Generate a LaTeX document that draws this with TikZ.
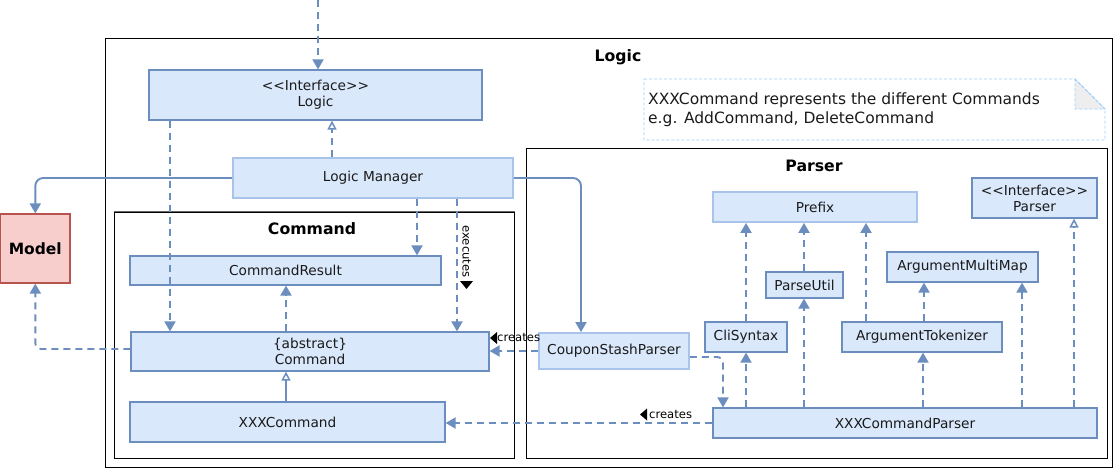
\documentclass[tikz,border=0pt]{standalone}
\usepackage{fontspec}
\setmainfont{DejaVu Sans}
\usetikzlibrary{arrows.meta}

\definecolor{boxfill}{HTML}{DAE8FC}
\definecolor{boxline}{HTML}{6C8EBF}
\definecolor{boxlight}{HTML}{A9C4EB}
\definecolor{modelfill}{HTML}{F8CECC}
\definecolor{modelline}{HTML}{B85450}
\definecolor{notebd}{HTML}{99CCFF}
\definecolor{foldfill}{HTML}{EEEEEE}
\definecolor{txt}{HTML}{1A1A1A}

\tikzset{
  cls/.style={draw=boxline, fill=boxfill, line width=1.2pt, inner sep=0pt,
    align=center, text=txt, font=\fontsize{13.7}{16}\selectfont},
  clslight/.style={cls, draw=boxlight, line width=1.8pt},
  pkg/.style={draw=black, line width=1pt, inner sep=0pt},
  pkgtitle/.style={font=\fontsize{15.7}{18}\selectfont\bfseries, inner sep=0pt},
  lbl/.style={font=\fontsize{11.6}{13}\selectfont, inner sep=0pt},
  dep/.style={draw=boxline, line width=1.9pt, dash pattern=on 7pt off 5pt,
    -{Triangle[width=11pt,length=10pt]}},
  realize/.style={draw=boxline, line width=1.9pt, dash pattern=on 7pt off 5pt,
    -{Triangle[open,fill=white,width=9pt,length=9pt,line width=1.5pt]}},
  assoc/.style={draw=boxline, line width=1.9pt, rounded corners=8pt,
    -{Triangle[width=11pt,length=10pt]}},
  inherit/.style={draw=boxline, line width=1.9pt,
    -{Triangle[open,fill=white,width=9pt,length=9pt,line width=1.5pt]}},
}

\begin{document}
\begin{tikzpicture}[x=1pt,y=-1pt]
\useasboundingbox (0,0) rectangle (1115,469);

% packages
\node[pkg, minimum width=1007pt, minimum height=429pt] (logicpkg) at (608.5,252.5) {};
\node[pkgtitle] (logictitle) at (618,57) {Logic};
\node[pkg, minimum width=400pt, minimum height=246pt] (cmdpkg) at (314,335) {};
\draw[black!60, line width=1.4pt] (cmdpkg.north west) -- (cmdpkg.north east);
\node[pkgtitle] (cmdtitle) at (312,229) {Command};
\node[pkg, minimum width=581pt, minimum height=310pt] (parserpkg) at (816.5,303) {};
\node[pkgtitle] (parsertitle) at (814,166) {Parser};

% note with folded corner
\filldraw[draw=notebd, fill=foldfill, line width=0.8pt, dash pattern=on 3pt off 2pt]
  (1075,79) -- (1105,109) -- (1075,109) -- cycle;
\draw[notebd, line width=0.8pt, dash pattern=on 3pt off 2pt]
  (644,79) -- (1075,79) -- (1105,109) -- (1105,140) -- (644,140) -- cycle;
\node[anchor=west, align=left, inner sep=0pt, text=txt, font=\fontsize{15.5}{19}\selectfont]
  (notetext) at (648,110) {XXXCommand represents the different Commands\\e.g. AddCommand, DeleteCommand};

% classes
\node[cls, minimum width=333pt, minimum height=50pt] (ilogic) at (315.5,95) {<{}<Interface>{}>\\Logic};
\node[clslight, minimum width=280pt, minimum height=40pt] (lm) at (373,178) {Logic Manager};
\node[draw=modelline, fill=modelfill, line width=1.2pt, inner sep=0pt,
  minimum width=69.4pt, minimum height=69pt, font=\fontsize{15.5}{18}\selectfont\bfseries]
  (model) at (35.3,248.5) {Model};
\node[cls, minimum width=311pt, minimum height=29pt] (cmdresult) at (285.5,270.5) {CommandResult};
\node[cls, minimum width=358pt, minimum height=39pt] (cmd) at (310,351.5) {\{abstract\}\\Command};
\node[cls, minimum width=315pt, minimum height=40pt] (xxxcmd) at (287.5,422) {XXXCommand};
\node[clslight, minimum width=150pt, minimum height=36pt] (csp) at (614,351) {CouponStashParser};
\node[clslight, minimum width=204pt, minimum height=30pt] (prefix) at (815,207) {Prefix};
\node[cls, minimum width=125pt, minimum height=40pt] (iparser) at (1034.5,198) {<{}<Interface>{}>\\Parser};
\node[cls, minimum width=151pt, minimum height=30pt] (amm) at (962.5,267) {ArgumentMultiMap};
\node[cls, minimum width=77pt, minimum height=26pt] (parseutil) at (804.5,285) {ParseUtil};
\node[cls, minimum width=82pt, minimum height=30pt] (clisyntax) at (746,337) {CliSyntax};
\node[cls, minimum width=160pt, minimum height=30pt] (atok) at (922,337) {ArgumentTokenizer};
\node[cls, minimum width=384pt, minimum height=30pt] (xcp) at (905,423) {XXXCommandParser};

% connectors
\coordinate (entry) at (318,0);
\draw[dep] (entry) -- (entry |- ilogic.north);
\draw[realize] (lm.north -| 332,0) -- (ilogic.south -| 332,0);
\draw[assoc] (lm.west) -| (model.north);
\draw[assoc] (lm.east) -| (581,0 |- csp.north);
\draw[dep] (lm.south -| 417,0) -- (cmdresult.north -| 417,0);
\draw[dep] (lm.south -| 457,0) -- (cmd.north -| 457,0);
\draw[dep] (ilogic.south -| 170,0) -- (cmd.north -| 170,0);
\draw[dep] (cmd.north -| 286,0) -- (cmdresult.south -| 286,0);
\draw[dep, rounded corners=6pt] (cmd.west |- 0,349) -| (model.south);
\draw[inherit] (xxxcmd.north -| 286,0) -- (cmd.south -| 286,0);
\draw[dep] (xcp.west) -- (xcp.west -| xxxcmd.east);
\draw[dep] (csp.west) -- (csp.west -| cmd.east);
\draw[dep, rounded corners=6pt] (csp.east |- 0,357) -| (xcp.north -| 723,0);
\draw[dep] (clisyntax.north) -- (clisyntax.north |- prefix.south);
\draw[dep] (xcp.north -| clisyntax) -- (clisyntax.south);
\draw[dep] (parseutil.north -| 804,0) -- (prefix.south -| 804,0);
\draw[dep] (xcp.north -| 804,0) -- (parseutil.south -| 804,0);
\draw[dep] (atok.north -| 866,0) -- (prefix.south -| 866,0);
\draw[dep] (atok.north -| 924,0) -- (amm.south -| 924,0);
\draw[dep] (xcp.north -| 923,0) -- (atok.south -| 923,0);
\draw[dep] (xcp.north -| 1022,0) -- (amm.south -| 1022,0);
\draw[realize] (xcp.north -| 1074,0) -- (iparser.south -| 1074,0);

% connector labels
\node[lbl, rotate=-90] (execlbl) at (466.5,251.5) {executes};
\fill (460,281) -- (473,281) -- (466.5,289) -- cycle;
\node[lbl, anchor=west] (createsa) at (497,338) {creates};
\fill (490,338) -- (497,332) -- (497,344) -- cycle;
\node[lbl, anchor=west] (createsb) at (649,414.5) {creates};
\fill (640,414.5) -- (647,408.5) -- (647,420.5) -- cycle;
\end{tikzpicture}
\end{document}
